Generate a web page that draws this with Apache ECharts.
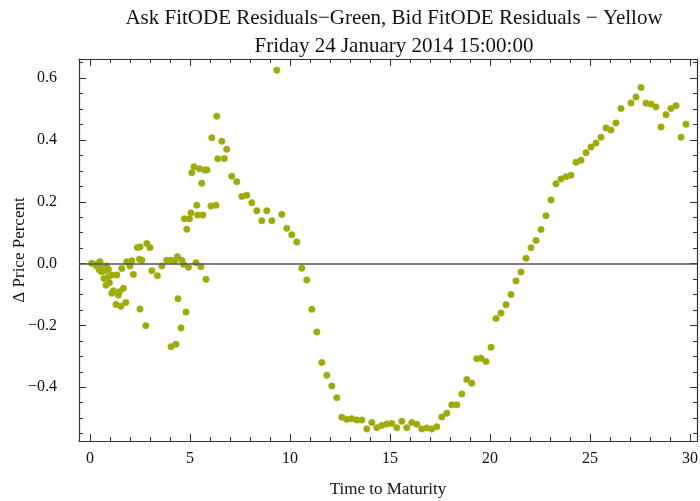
<!DOCTYPE html>
<html>
<head>
<meta charset="UTF-8">
<title>FitODE Residuals</title>
<script src="https://cdn.jsdelivr.net/npm/echarts@6/dist/echarts.min.js"></script>
<style>
html, body { margin: 0; padding: 0; background: #fff; }
#chart { width: 700px; height: 501px; }
</style>
</head>
<body>
<div id="chart"></div>
<script>
// time to maturity of each residual point
var maturity = [
  0.08, 0.25, 0.33, 0.42, 0.50, 0.58, 0.47, 0.67, 0.83, 0.75, 0.58, 0.92,
  0.70, 0.92, 1.09, 1.34, 0.80, 0.97, 1.17, 1.09, 1.47, 1.42, 1.67, 1.30, 1.54, 1.79,
  1.59, 1.84, 2.09, 2.00, 2.17, 2.37, 2.50, 2.84, 3.00, 2.59, 2.47, 3.09, 3.37, 3.59,
  3.84, 4.04, 4.25, 4.37, 4.59, 4.67, 4.92, 5.30, 5.54, 5.80,
  2.50, 2.79, 4.40, 4.80, 4.55, 4.30, 4.05,
  6.34, 6.09, 6.59, 6.84, 6.39, 6.72, 5.20, 5.09, 5.47, 5.72, 5.85, 5.59,
  7.09, 7.34, 7.59, 7.84, 8.09, 8.34, 8.84, 8.59, 9.09, 9.59, 9.84,
  5.34, 5.05, 4.72, 4.97, 5.39, 5.64, 6.05, 6.30, 4.84, 9.34,
  10.09, 10.34, 10.59, 10.84, 11.09, 11.34, 11.59, 11.84, 12.09, 12.34,
  12.59, 12.84, 13.09, 13.34, 13.59, 13.84, 14.09, 14.34, 14.59, 14.84,
  15.09, 15.34, 15.59, 15.84, 16.09, 16.34, 16.59, 16.84, 17.09, 17.34,
  17.59, 17.84, 18.09, 18.34, 18.59, 18.84, 19.09, 19.34, 19.55, 19.80,
  20.05, 20.30, 20.55, 20.80, 21.05, 21.30, 21.55, 21.80, 22.05, 22.30,
  22.55, 22.80, 23.05, 23.30, 23.55, 23.80, 24.05, 24.30, 24.55, 24.80,
  25.05, 25.30, 25.55, 25.80, 26.05, 26.30, 26.55, 27.05, 27.30, 27.55,
  27.80, 28.05, 28.30, 28.55, 28.80, 29.05, 29.30, 29.55, 29.80
];
// residual, in price percent
var residual = [
  0.001, -0.003, -0.008, 0.001, 0.006, -0.010, -0.021, -0.016, -0.008, -0.023, -0.026, -0.019,
  -0.048, -0.043, -0.037, -0.037, -0.070, -0.062, -0.088, -0.096, -0.091, -0.102, -0.080, -0.132, -0.138, -0.126,
  -0.016, 0.006, 0.009, -0.008, -0.035, 0.052, 0.054, 0.065, 0.052, 0.011, 0.014, -0.023, -0.039, -0.008,
  0.011, 0.011, 0.009, 0.022, 0.011, -0.002, -0.012, 0.003, -0.010, -0.051,
  -0.147, -0.201, -0.114, -0.157, -0.208, -0.261, -0.269,
  0.477, 0.407, 0.396, 0.370, 0.339, 0.340, 0.313, 0.294, 0.307, 0.303, 0.303, 0.260,
  0.283, 0.265, 0.217, 0.221, 0.197, 0.171, 0.171, 0.139, 0.139, 0.159, 0.114,
  0.189, 0.164, 0.145, 0.145, 0.157, 0.157, 0.186, 0.189, 0.111, 0.626,
  0.093, 0.070, -0.015, -0.053, -0.148, -0.221, -0.320, -0.361, -0.396, -0.434,
  -0.497, -0.504, -0.502, -0.506, -0.506, -0.535, -0.514, -0.531, -0.524, -0.519,
  -0.517, -0.531, -0.510, -0.531, -0.514, -0.520, -0.535, -0.532, -0.535, -0.528,
  -0.496, -0.484, -0.457, -0.457, -0.422, -0.375, -0.387, -0.308, -0.306, -0.317,
  -0.271, -0.178, -0.160, -0.133, -0.100, -0.056, -0.027, 0.017, 0.051, 0.075,
  0.110, 0.155, 0.206, 0.258, 0.274, 0.281, 0.286, 0.328, 0.334, 0.359,
  0.377, 0.390, 0.409, 0.439, 0.432, 0.455, 0.502, 0.520, 0.539, 0.570,
  0.519, 0.516, 0.507, 0.442, 0.482, 0.502, 0.511, 0.409, 0.451
];

var titleLines = ['Ask FitODE Residuals\u2212Green, Bid FitODE Residuals \u2212 Yellow', 'Friday 24 January 2014 15:00:00'];
var xName = 'Time to Maturity';
var yName = '\u0394 Price Percent';

var X_MIN = -0.55, X_MAX = 30.35;
var Y_MIN = -0.574, Y_MAX = 0.662;
var serif = 'Liberation Serif';
var frameColor = '#333';

var points = [];
for (var i = 0; i < maturity.length; i++) {
  points.push([maturity[i], residual[i]]);
}

function yLabel(v) {
  return (v < 0 ? '\u2212' : '') + Math.abs(v).toFixed(1);
}

// one frame side: major ticks (with line) or minor ticks only
function frameAxis(pos, step, count, isMajor, withLabel) {
  var isX = (pos == 'top' || pos == 'bottom');
  var ax = {
    type: 'value',
    position: pos,
    min: isX ? X_MIN : Y_MIN,
    max: isX ? X_MAX : Y_MAX,
    splitNumber: count,
    minInterval: step,
    maxInterval: step,
    axisLine: { show: isMajor, onZero: false, lineStyle: { color: frameColor, width: 1.2 } },
    axisTick: { show: true, inside: true, length: isMajor ? 7 : 4, lineStyle: { color: frameColor, width: 1 } },
    splitLine: { show: false },
    axisLabel: { show: false }
  };
  if (withLabel) {
    ax.axisLabel = {
      show: true,
      showMinLabel: false,
      showMaxLabel: false,
      fontFamily: serif,
      fontSize: 16,
      color: '#111',
      margin: isX ? 10 : 22,
      formatter: isX ? function (v) { return String(v); } : yLabel
    };
    ax.name = isX ? xName : yName;
    ax.nameLocation = 'middle';
    ax.nameGap = isX ? 40 : 51;
    ax.nameMoveOverlap = false;
    ax.nameTextStyle = { fontFamily: serif, fontSize: 17, color: '#111' };
  }
  return ax;
}

var chart = echarts.init(document.getElementById('chart'));
chart.setOption({
  animation: false,
  backgroundColor: '#fff',
  title: [
    { text: titleLines[0], left: 389, top: 3, textAlign: 'center',
      textStyle: { fontFamily: serif, fontSize: 21, fontWeight: 'normal', color: '#111' } },
    { text: titleLines[1], left: 389, top: 31, textAlign: 'center',
      textStyle: { fontFamily: serif, fontSize: 21, fontWeight: 'normal', color: '#111' } }
  ],
  grid: { left: 79, right: 3, top: 59, bottom: 60, containLabel: false, outerBoundsMode: 'none' },
  xAxis: [
    frameAxis('bottom', 5, 6, true, true),
    frameAxis('bottom', 1, 31, false, false),
    frameAxis('top', 5, 6, true, false),
    frameAxis('top', 1, 31, false, false)
  ],
  yAxis: [
    frameAxis('left', 0.2, 6, true, true),
    frameAxis('left', 0.05, 25, false, false),
    frameAxis('right', 0.2, 6, true, false),
    frameAxis('right', 0.05, 25, false, false)
  ],
  series: [{
    type: 'scatter',
    xAxisIndex: 0,
    yAxisIndex: 0,
    data: points,
    symbolSize: 6.5,
    itemStyle: { color: '#a8a700', borderColor: '#86c23a', borderWidth: 0.6, opacity: 1 },
    markLine: {
      silent: true,
      symbol: ['none', 'none'],
      label: { show: false },
      lineStyle: { color: '#555', width: 1.5, type: 'solid' },
      data: [{ yAxis: 0 }]
    },
    z: 3
  }]
});
</script>
</body>
</html>
